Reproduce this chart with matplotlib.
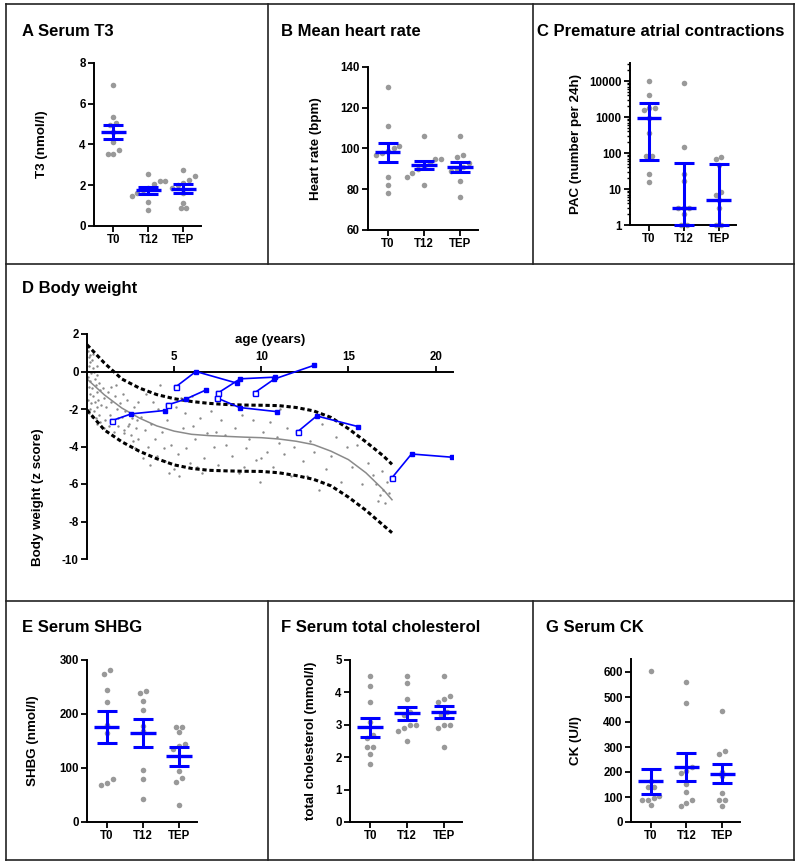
import numpy as np
import matplotlib
matplotlib.use('Agg')
import matplotlib.pyplot as plt
from matplotlib.lines import Line2D
from matplotlib.ticker import LogLocator, NullFormatter

plt.rcParams['font.family'] = 'Liberation Sans'
plt.rcParams['font.weight'] = 'bold'
plt.rcParams['axes.labelweight'] = 'bold'
plt.rcParams['axes.unicode_minus'] = False

groups = ['T0', 'T12', 'TEP']

# A serum T3 (nmol/l)
t3_t0 = [6.9, 5.35, 5.05, 4.95, 4.6, 4.1, 3.75, 3.55, 3.55]
t3_t12 = [2.55, 2.2, 2.2, 2.05, 1.85, 1.75, 1.6, 1.45, 1.2, 0.8]
t3_tep = [2.75, 2.45, 2.25, 2.1, 2.0, 1.85, 1.6, 1.15, 0.9, 0.9]
t3_mean = [4.6, 1.75, 1.82]
t3_low = [4.25, 1.58, 1.6]
t3_high = [4.95, 1.92, 2.05]

# B heart rate (bpm)
hr_t0 = [130, 111, 101, 100, 99, 98, 97, 86, 82, 78]
hr_t12 = [106, 95, 95, 93, 91, 90, 88, 86, 82]
hr_tep = [106, 97, 96, 93, 91, 90, 89, 84, 76]
hr_mean = [98.2, 92, 90.9]
hr_low = [93.4, 89.7, 88.4]
hr_high = [102.9, 94, 93.5]

# C premature atrial contractions (median + range bars)
pac_t0 = [10000, 4200, 1800, 1800, 1550, 950, 350, 82, 82, 26, 16]
pac_t12 = [9000, 144, 26, 17, 3, 3, 3, 2, 1, 1]
pac_tep = [76, 67, 45, 8, 7, 5, 3, 1, 1]
pac_mid = [950, 3, 5]
pac_low = [64, 1, 1]
pac_high = [2450, 54, 50]

# D body weight: reference population
ref_age = [0.05, 0.1, 0.15, 0.2, 0.3, 0.35, 0.1, 0.25, 0.4, 0.05, 0.2, 0.45, 0.6, 0.1, 0.3, 0.5, 0.7,
           0.15, 0.35, 0.55, 0.75, 0.05, 0.25, 0.45, 0.65, 0.2, 0.4, 0.6, 0.8, 0.3, 0.5, 0.7, 0.1, 0.55,
           0.75, 0.35, 0.6,
           0.9, 1.0, 1.1, 1.2, 1.3, 1.4, 1.5, 1.6, 1.7, 1.8, 1.9, 2.0, 2.1, 2.2, 2.3, 2.4, 2.5, 2.6, 2.7,
           2.8, 2.9, 1.05, 1.35, 1.55, 1.75, 2.05, 2.45, 2.65, 2.85, 0.95, 1.25, 1.65, 2.15, 2.35, 2.75, 2.95,
           3.1, 3.3, 3.5, 3.4, 3.7, 3.9, 4.0, 4.2, 4.3, 4.5, 4.6, 4.8, 5.0, 5.1, 5.2, 5.3, 5.5, 5.6, 5.7,
           5.9, 6.0, 6.2, 6.3, 6.5, 6.7, 6.9, 3.2, 3.6, 4.1, 4.7, 5.4, 6.1, 6.6, 3.8, 4.4,
           7.1, 7.3, 7.5, 7.7, 7.9, 8.1, 8.3, 8.5, 8.7, 8.9, 9.1, 9.3, 9.5, 9.7, 9.9, 10.1, 10.3, 10.5,
           10.7, 10.9, 11.1, 11.3, 11.5, 11.7, 11.9, 8.0, 9.0, 10.0, 11.0, 7.4,
           12.2, 12.4, 12.6, 12.8, 13.0, 13.3, 13.5, 13.7, 14.0, 14.3, 14.6, 14.9, 15.2, 15.5, 15.8,
           16.1, 16.4, 16.6, 16.8, 16.9, 17.0, 17.1, 17.2, 17.3, 16.7]
ref_z = [1.1, 0.8, 0.5, 0.9, 0.6, 0.2, 0.3, -0.1, 0.0, -0.3, -0.5, -0.4, -0.2, -0.8, -0.9, -0.7, -0.6,
         -1.2, -1.3, -1.1, -1.0, -1.5, -1.7, -1.6, -1.5, -2.0, -2.1, -1.9, -1.8, -2.4, -2.5, -2.3, -2.2, -2.8,
         -2.7, 0.95, 0.3,
         -0.9, -1.4, -1.9, -1.1, -2.3, -1.6, -2.7, -1.3, -2.0, -2.9, -1.7, -2.4, -3.1, -2.1, -1.5, -2.8, -3.4,
         -2.5, -1.9, -3.0, -3.6, -2.6, -0.8, -3.2, -2.5, -1.2, -2.2, -3.7, -2.6, -3.0, -2.9, -0.7, -3.3,
         -2.9, -4.1, -1.6,
         -2.4, -3.1, -4.0, -1.2, -2.8, -3.6, -4.5, -0.7, -3.2, -4.8, -2.6, -3.9, -5.2, -1.9, -4.4, -5.6,
         -3.0, -2.2, -4.1, -4.9, -1.3, -3.6, -5.1, -2.5, -4.6, -3.3, -4.6, -5.0, -2.0, -5.4, -1.4, -2.9,
         -5.4, -1.6, -4.1,
         -2.1, -4.0, -5.0, -2.6, -3.4, -1.7, -4.5, -3.0, -5.4, -2.3, -4.1, -3.6, -2.6, -4.7, -5.9, -3.2,
         -4.3, -2.7, -5.1, -3.5, -2.0, -4.4, -3.0, -5.6, -4.0, -3.9, -5.1, -4.6, -3.8, -3.2,
         -3.1, -4.8, -5.6, -3.7, -4.3, -6.3, -2.8, -5.2, -4.5, -3.5, -5.9, -4.0, -5.1, -3.9, -6.0,
         -4.9, -5.5, -6.0, -6.6, -5.3, -6.3, -7.0, -5.9, -6.5, -6.9]

# D body weight: reference mean and +/- 2 SD curves
curve_age = [0, 1, 2, 3, 4, 5, 6, 7, 8, 9, 10, 11, 12, 13, 14, 15, 16, 17, 17.5]
curve_mean = [-0.4, -1.25, -1.95, -2.48, -2.9, -3.18, -3.35, -3.42, -3.46, -3.5, -3.53, -3.6,
              -3.72, -3.9, -4.25, -4.7, -5.4, -6.3, -6.84]
curve_upper = [1.43, 0.45, -0.4, -0.88, -1.23, -1.45, -1.6, -1.7, -1.76, -1.79, -1.8, -1.82,
               -1.92, -2.1, -2.45, -3.05, -3.75, -4.5, -4.95]
curve_lower = [-2.05, -3.12, -3.75, -4.25, -4.65, -4.98, -5.17, -5.27, -5.3, -5.32, -5.33, -5.4,
               -5.55, -5.75, -6.1, -6.7, -7.4, -8.2, -8.6]

# D body weight: patients (T0, T12, TEP)
pt_age = [[1.43, 2.54, 4.45], [4.64, 5.67, 6.84], [5.12, 6.25, 8.6], [7.51, 8.79, 10.8],
          [7.48, 8.75, 10.89], [9.64, 10.75, 13.03], [12.09, 13.18, 15.56], [17.48, 18.62, 20.92]]
pt_z = [[-2.62, -2.26, -2.08], [-1.78, -1.47, -0.98], [-0.8, 0.0, -0.62], [-1.15, -0.39, -0.3],
        [-1.42, -1.92, -2.14], [-1.12, -0.4, 0.33], [-3.21, -2.37, -2.94], [-5.69, -4.4, -4.57]]

# E SHBG (nmol/l)
shbg_t0 = [282, 275, 244, 222, 180, 164, 80, 72, 68]
shbg_t12 = [242, 239, 225, 207, 178, 168, 97, 79, 42]
shbg_tep = [176, 176, 166, 145, 140, 135, 94, 82, 74, 31]
shbg_mean = [175.6, 165, 122]
shbg_low = [146.6, 139, 103]
shbg_high = [205, 190, 138]

# F total cholesterol (mmol/l)
chol_t0 = [4.5, 4.2, 3.7, 3.1, 2.7, 2.6, 2.3, 2.3, 2.1, 1.8]
chol_t12 = [4.5, 4.3, 3.8, 3.4, 3.3, 3.0, 3.0, 2.9, 2.8, 2.5]
chol_tep = [4.5, 3.9, 3.8, 3.7, 3.4, 3.3, 3.0, 3.0, 2.9, 2.3]
chol_mean = [2.92, 3.35, 3.4]
chol_low = [2.63, 3.14, 3.2]
chol_high = [3.22, 3.54, 3.59]

# G CK (U/l)
ck_t0 = [603, 165, 140, 140, 106, 96, 90, 90, 67]
ck_t12 = [561, 478, 220, 205, 195, 151, 120, 87, 78, 63]
ck_tep = [443, 284, 272, 202, 183, 115, 90, 90, 63]
ck_mean = [163, 222, 194]
ck_low = [114, 163, 157]
ck_high = [214, 275, 232]

W, H = 800, 866
BLUE = '#0000ff'
GREY = '#999999'

fig = plt.figure(figsize=(W / 100, H / 100), dpi=100)


def add_ax(l, t, r, b):
    return fig.add_axes([l / W, 1 - b / H, (r - l) / W, (b - t) / H])


def spread(vals, tol, step=0.16):
    # put points with (almost) the same value side by side
    v = np.asarray(vals, float)
    order = np.argsort(v)
    offs = np.zeros(len(v))
    i = 0
    while i < len(order):
        j = i
        while j + 1 < len(order) and v[order[j + 1]] - v[order[j]] < tol:
            j += 1
        n = j - i + 1
        offs[order[i:j + 1]] = (np.arange(n) - (n - 1) / 2) * step
        i = j + 1
    return offs


def style(ax):
    for s in ['top', 'right']:
        ax.spines[s].set_visible(False)
    for s in ['left', 'bottom']:
        ax.spines[s].set_linewidth(1.4)
    ax.tick_params(axis='both', width=1.3, length=4, labelsize=8.3, pad=2)


def dot_panel(box, data, mid, low, high, ylim, yticks, ylabel, label_x, log=False):
    ax = add_ax(*box)
    if log:
        ax.set_yscale('log')
    ax.set_xlim(-0.55, 2.5)
    ax.set_ylim(*ylim)
    span = (np.log10(ylim[1]) - np.log10(ylim[0])) if log else (ylim[1] - ylim[0])
    for i, vals in enumerate(data):
        tv = np.log10(vals) if log else np.asarray(vals, float)
        offs = spread(tv, 0.028 * span)
        ax.scatter(i + offs, vals, s=16, color=GREY, linewidths=0, zorder=2, clip_on=False)
        eb = ax.errorbar(i, mid[i], yerr=[[mid[i] - low[i]], [high[i] - mid[i]]], fmt='none',
                         ecolor=BLUE, elinewidth=2.2, capsize=7, capthick=2.2, zorder=3)
        for art in eb.get_children():
            art.set_clip_on(False)
        ax.hlines(mid[i], i - 0.35, i + 0.35, color=BLUE, lw=2.4, zorder=4, clip_on=False)
    ax.set_xticks(range(3))
    ax.set_xticklabels(groups)
    ax.set_yticks(yticks)
    if log:
        ax.set_yticklabels([str(t) for t in yticks])
        ax.yaxis.set_minor_locator(LogLocator(base=10, subs=np.arange(2, 10)))
        ax.yaxis.set_minor_formatter(NullFormatter())
        ax.tick_params(axis='y', which='minor', length=2, width=1)
    style(ax)
    ax.set_ylabel(ylabel, fontsize=9.6, va='center')
    ax.yaxis.set_label_coords((label_x - box[0]) / (box[2] - box[0]), 0.5)
    return ax


dot_panel((94, 63, 201, 226), [t3_t0, t3_t12, t3_tep], t3_mean, t3_low, t3_high,
          (0, 8), [0, 2, 4, 6, 8], 'T3 (nmol/l)', 42)
dot_panel((368, 67, 478, 230), [hr_t0, hr_t12, hr_tep], hr_mean, hr_low, hr_high,
          (60, 140), [60, 80, 100, 120, 140], 'Heart rate (bpm)', 316)
dot_panel((630, 63, 736, 225), [pac_t0, pac_t12, pac_tep], pac_mid, pac_low, pac_high,
          (1, 10 ** 4.5), [1, 10, 100, 1000, 10000], 'PAC (number per 24h)', 576, log=True)
dot_panel((87, 660, 197, 822), [shbg_t0, shbg_t12, shbg_tep], shbg_mean, shbg_low, shbg_high,
          (0, 300), [0, 100, 200, 300], 'SHBG (nmol/l)', 33)
dot_panel((350, 660, 462, 822), [chol_t0, chol_t12, chol_tep], chol_mean, chol_low, chol_high,
          (0, 5), [0, 1, 2, 3, 4, 5], 'total cholesterol (mmol/l)', 311)
dot_panel((631, 659, 740, 822), [ck_t0, ck_t12, ck_tep], ck_mean, ck_low, ck_high,
          (0, 652), [0, 100, 200, 300, 400, 500, 600], 'CK (U/l)', 576)

# panel D
ax = add_ax(87, 334, 453, 559)
ax.set_xlim(0, 21)
ax.set_ylim(-10, 2)
ax.scatter(ref_age, ref_z, s=3, color='#8a8a8a', linewidths=0, zorder=1)
ax.plot(curve_age, curve_mean, color='#8a8a8a', lw=1.1, zorder=2)
ax.plot(curve_age, curve_upper, color='black', lw=2.2, ls=(0, (1.4, 0.9)), zorder=2)
ax.plot(curve_age, curve_lower, color='black', lw=2.2, ls=(0, (1.4, 0.9)), zorder=2)
for xs, ys in zip(pt_age, pt_z):
    ax.plot(xs, ys, color=BLUE, lw=1.2, marker='s', ms=3.2, mfc=BLUE, mec=BLUE, zorder=3)
    ax.plot(xs[0], ys[0], 's', ms=3.6, mfc='white', mec=BLUE, mew=1, zorder=4)
ax.spines['right'].set_visible(False)
ax.spines['bottom'].set_visible(False)
ax.spines['top'].set_position(('data', 0))
ax.spines['top'].set_linewidth(1.4)
ax.spines['left'].set_linewidth(1.4)
ax.xaxis.tick_top()
ax.xaxis.set_label_position('top')
ax.set_xticks([5, 10, 15, 20])
ax.set_yticks([2, 0, -2, -4, -6, -8, -10])
ax.tick_params(axis='both', width=1.3, length=4, labelsize=8.3, pad=2)
ax.set_xlabel('age (years)', fontsize=9.6, va='center')
ax.xaxis.set_label_coords(0.5, (559 - 340) / 225)
ax.set_ylabel('Body weight (z score)', fontsize=9.6, va='center')
ax.yaxis.set_label_coords((38 - 87) / (453 - 87), (559 - 497) / 225)

# panel titles
titles = [('A Serum T3', 22, 32), ('B Mean heart rate', 281, 32),
          ('C Premature atrial contractions', 537, 31), ('D Body weight', 22, 289),
          ('E Serum SHBG', 22, 627), ('F Serum total cholesterol', 281, 627),
          ('G Serum CK', 546, 627)]
for txt, x, y in titles:
    fig.text(x / W, 1 - y / H, txt, fontsize=12, fontweight='bold', ha='left', va='center')

# panel frames
frame = [((6, 4), (794, 4)), ((6, 860), (794, 860)), ((6, 4), (6, 860)), ((794, 4), (794, 860)),
         ((6, 264), (794, 264)), ((6, 601), (794, 601)),
         ((268, 4), (268, 264)), ((533, 4), (533, 264)),
         ((268, 601), (268, 860)), ((533, 601), (533, 860))]
for (x0, y0), (x1, y1) in frame:
    fig.add_artist(Line2D([x0 / W, x1 / W], [1 - y0 / H, 1 - y1 / H], transform=fig.transFigure,
                          color='#222222', lw=1.2))

fig.savefig('out.png', dpi=100)
